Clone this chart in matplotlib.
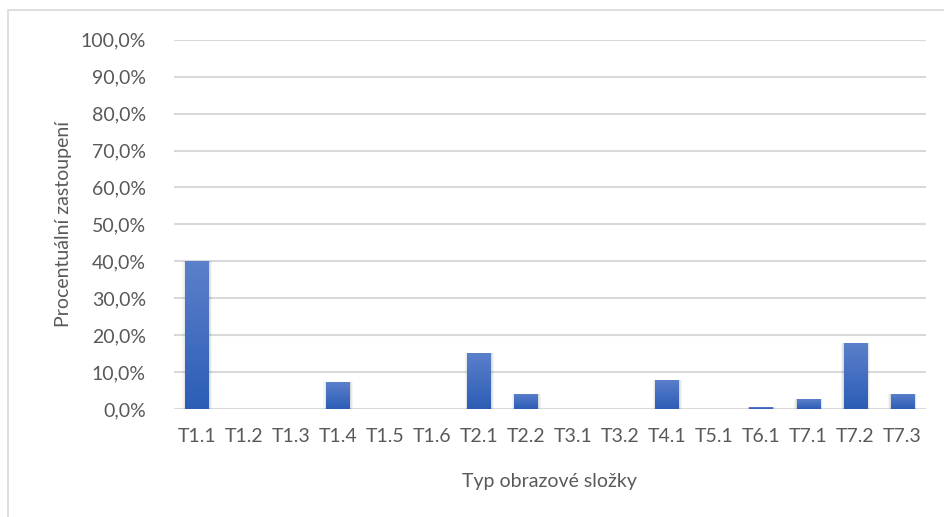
import numpy as np
import matplotlib.pyplot as plt
from matplotlib.patches import Rectangle
from matplotlib.ticker import FuncFormatter
from matplotlib.colors import LinearSegmentedColormap

plt.rcParams['font.family'] = ['Lato', 'DejaVu Sans']

categories = ["T1.1", "T1.2", "T1.3", "T1.4", "T1.5", "T1.6", "T2.1", "T2.2",
              "T3.1", "T3.2", "T4.1", "T5.1", "T6.1", "T7.1", "T7.2", "T7.3"]
values = [40.0, 0.0, 0.0, 7.3, 0.0, 0.0, 15.2, 4.1,
          0.0, 0.0, 7.9, 0.0, 0.5, 2.7, 17.9, 4.1]

fig = plt.figure(figsize=(9.44, 5.17), dpi=100)
ax = fig.add_axes([0.184, 0.209, 0.797, 0.714])

x = np.arange(len(categories))
bars = ax.bar(x, values, width=0.51, color='#4472C4', zorder=3)

# gradient fill, lighter at the top
grad = np.linspace(0, 1, 256).reshape(-1, 1)
cmap = LinearSegmentedColormap.from_list('g', ['#2C5DB6', '#5C80CB'])
for b in bars:
    if b.get_height() <= 0:
        continue
    bx, by = b.get_x(), b.get_y()
    w, h = b.get_width(), b.get_height()
    # soft shadow
    for k, a in [(0.06, 0.04), (0.035, 0.05), (0.015, 0.06)]:
        ax.add_patch(Rectangle((bx - k, by - k * 8), w + 2 * k, h + k * 8,
                               facecolor='#000000', alpha=a, edgecolor='none', zorder=2))
    im = ax.imshow(grad, extent=[bx, bx + w, by, by + h], origin='lower',
                   cmap=cmap, aspect='auto', zorder=4)
    im.set_clip_path(b)

ax.set_xlim(-0.5, len(categories) - 0.5)
ax.set_ylim(0, 100)
ax.set_yticks(np.arange(0, 101, 10))
ax.yaxis.set_major_formatter(FuncFormatter(lambda v, p: f"{v:.1f}%".replace('.', ',')))
ax.set_xticks(x)
ax.set_xticklabels(categories)
ax.grid(axis='y', color='#D9D9D9', linewidth=1.5, zorder=0)
for s in ax.spines.values():
    s.set_visible(False)
ax.tick_params(length=0, labelsize=14, colors='#595959', pad=14)
ax.tick_params(axis='y', pad=20)

ax.set_xlabel("Typ obrazové složky", fontsize=14, color='#595959', labelpad=20)
ax.set_ylabel("Procentuální zastoupení", fontsize=14, color='#595959', labelpad=6)

fig.patches.append(Rectangle((8 / 944, -0.1), 2.0, (517 - 10) / 517 + 0.1,
                             transform=fig.transFigure, facecolor='none',
                             edgecolor='#D9D9D9', linewidth=1.2))

fig.savefig('out.png', dpi=100)
